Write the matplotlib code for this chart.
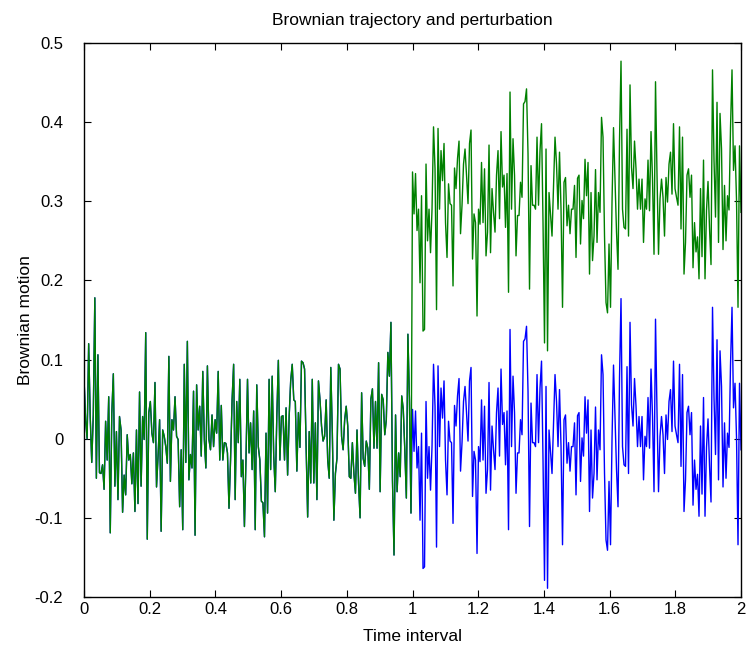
import numpy as np
import matplotlib
matplotlib.use("Agg")
import matplotlib.pyplot as plt

plt.rcParams["font.family"] = ["Liberation Sans", "DejaVu Sans"]

# Brownian values, t in [0, 1)
brown_first = [
    0.075, 0.024, 0.0, 0.12, 0.028, -0.03, 0.03, 0.178, -0.05, 0.106, -0.043, -0.044,
    -0.033, -0.064, 0.022, -0.027, 0.053, -0.119, 0.032, 0.082, -0.06, 0.009, -0.077,
    0.028, 0.011, -0.093, -0.046, -0.071, 0.005, -0.027, -0.02, -0.057,
    -0.018, -0.092, 0.011, -0.082, 0.059, -0.06, 0.028, -0.001, 0.134, -0.127, 0.033,
    0.047, 0.007, -0.005, 0.071, -0.061, -0.022, 0.024, -0.117, 0.011, 0.003, -0.01,
    -0.031, 0.104, -0.054, 0.024, 0.011, 0.053, 0.003, -0.001, -0.086, -0.014, -0.115,
    0.094, -0.03, 0.123,
    -0.052, -0.02, -0.037, 0.06, -0.122, 0.068, 0.011, 0.041, -0.022, 0.085, -0.001,
    -0.037, 0.092, -0.001, -0.014, 0.03, -0.01, 0.024, 0.007, 0.085, -0.027, 0.042,
    -0.027, -0.005, -0.006, -0.018, -0.088, -0.027, 0.049, 0.094, -0.077, 0.047,
    -0.005, 0.075, -0.048, -0.027, -0.111,
    -0.027, 0.075, -0.018, 0.02, -0.039, 0.035, -0.115, 0.068, -0.01, -0.027, -0.079,
    -0.081, -0.124, 0.007, -0.094, 0.075, -0.039, 0.079, -0.022, -0.067, 0.028, 0.099,
    -0.027, 0.028, 0.029, -0.027, 0.039, -0.046, 0.028, 0.073, 0.094, 0.049, 0.047,
    -0.041, 0.033, -0.011, 0.098,
    0.096, 0.088, -0.01, -0.099, 0.009, -0.056, 0.075, -0.056, 0.02, -0.077, 0.073,
    0.049, 0.016, -0.003, 0.003, 0.049, -0.027, -0.05, 0.09, 0.007, -0.103, -0.044,
    -0.025, 0.094, 0.088, 0.003, -0.014, 0.024, 0.041, 0.016, -0.048, -0.05, -0.005,
    -0.044, -0.069, 0.011,
    -0.056, -0.1, 0.058, -0.025, -0.035, -0.003, -0.012, -0.064, 0.05, 0.063, -0.012,
    0.047, -0.012, 0.096, -0.067, 0.056, 0.049, 0.005, 0.024, 0.109, 0.079, 0.147,
    -0.052, -0.147, 0.03, -0.067, -0.018, -0.048, 0.054, 0.037, -0.014, -0.075, 0.132,
    0.049, -0.094,
]

# Brownian values, t in [1, 2]
brown_second = [
    0.037, -0.016, 0.035,
    -0.037, -0.01, -0.103, 0.007, -0.164, -0.162, 0.047, -0.05, -0.01, -0.065, -0.01,
    0.094, 0.041, -0.137, 0.092, -0.01, 0.064, 0.026, 0.073, -0.027, -0.071, 0.022,
    -0.003, -0.005, -0.107, 0.042, 0.016, 0.054, 0.076, -0.041, -0.005, 0.047, 0.066,
    0.033, -0.003, 0.073, 0.09,
    -0.073, -0.016, -0.027, -0.145, -0.01, -0.029, 0.049, -0.027, 0.041, -0.069,
    -0.039, 0.071, -0.065, 0.016, -0.014, -0.039, 0.033, 0.064, -0.022, 0.088, 0.018,
    0.033, -0.033, 0.035, -0.115, 0.138, -0.01, 0.079, 0.033, -0.069, -0.018, -0.018,
    0.024, 0.005, 0.123, 0.126, 0.142,
    0.06, -0.111, 0.045, -0.005, -0.005, -0.01, 0.081, -0.005, 0.064, 0.098, -0.027,
    -0.179, 0.066, -0.189, 0.011, -0.016, -0.044, 0.02, 0.081, 0.047, -0.01, 0.062,
    -0.01, -0.134, 0.024, 0.03, -0.031, -0.005, -0.041, -0.01, -0.01, 0.02, -0.071,
    0.029, 0.033, -0.054, 0.001,
    -0.022, 0.053, 0.007, 0.049, -0.092, 0.011, -0.075, -0.044, 0.04, -0.052, 0.011,
    -0.014, 0.106, 0.081, -0.044, -0.128, -0.141, -0.054, -0.134, -0.001, 0.093,
    0.028, -0.039, -0.086, 0.077, 0.177, -0.01, -0.033, -0.035, 0.091, -0.044, 0.147,
    0.043, 0.016, 0.076, 0.041, -0.01, 0.028,
    -0.01, 0.028, -0.052, 0.003, -0.01, 0.052, -0.012, 0.088, 0.028, -0.067, 0.151,
    0.033, -0.067, 0.003, 0.028, 0.005, -0.044, 0.03, -0.001, 0.047, 0.062, 0.009,
    0.098, 0.016, 0.005, -0.005, 0.094, -0.035, 0.081, -0.092, -0.052, 0.033, 0.041,
    0.005, 0.033,
    -0.084, -0.027, -0.064, -0.045, -0.098, 0.016, -0.07, 0.052, -0.098, -0.011,
    0.025, -0.034, -0.08, 0.166, 0.052, -0.02, 0.125, -0.052, 0.111, 0.066, -0.061,
    0.02, -0.05, 0.007, -0.011, 0.093, 0.166, 0.039, 0.07, 0.002, -0.134, 0.07, -0.014,
]

perturbation = 0.3   # step added to the trajectory from t = 1 on

n1, n2 = len(brown_first), len(brown_second)
t = np.concatenate([np.linspace(0, 1, n1, endpoint=False), np.linspace(1, 2, n2)])
brown = np.array(brown_first + brown_second)
perturbed = brown + np.concatenate([np.zeros(n1), np.full(n2, perturbation)])

fig = plt.figure(figsize=(7.51, 6.52), dpi=100)
ax = fig.add_axes([0.1119, 0.0844, 0.8748, 0.8497])
ax.plot(t, brown, color=(0, 0, 1), lw=1.0)
ax.plot(t, perturbed, color=(0, 0.5, 0), lw=1.0)

ax.set_xlim(0, 2)
ax.set_ylim(-0.2, 0.5)
ax.set_xticks(np.arange(0, 2.01, 0.2))
ax.set_xticklabels(["0", "0.2", "0.4", "0.6", "0.8", "1", "1.2", "1.4", "1.6", "1.8", "2"])
ax.set_yticks(np.arange(-0.2, 0.51, 0.1))
ax.set_yticklabels(["-0.2", "-0.1", "0", "0.1", "0.2", "0.3", "0.4", "0.5"])
ax.tick_params(direction="in", top=True, right=True, labelsize=12, length=5)
ax.tick_params(axis="y", pad=15)
for s in ax.spines.values():
    s.set_linewidth(1.0)

ax.set_title("Brownian trajectory and perturbation", fontsize=12.5, pad=13)
ax.set_xlabel("Time interval", fontsize=12.5, labelpad=9)
ax.set_ylabel("Brownian motion", fontsize=12.5, labelpad=1)

fig.savefig("out.png", dpi=100)
